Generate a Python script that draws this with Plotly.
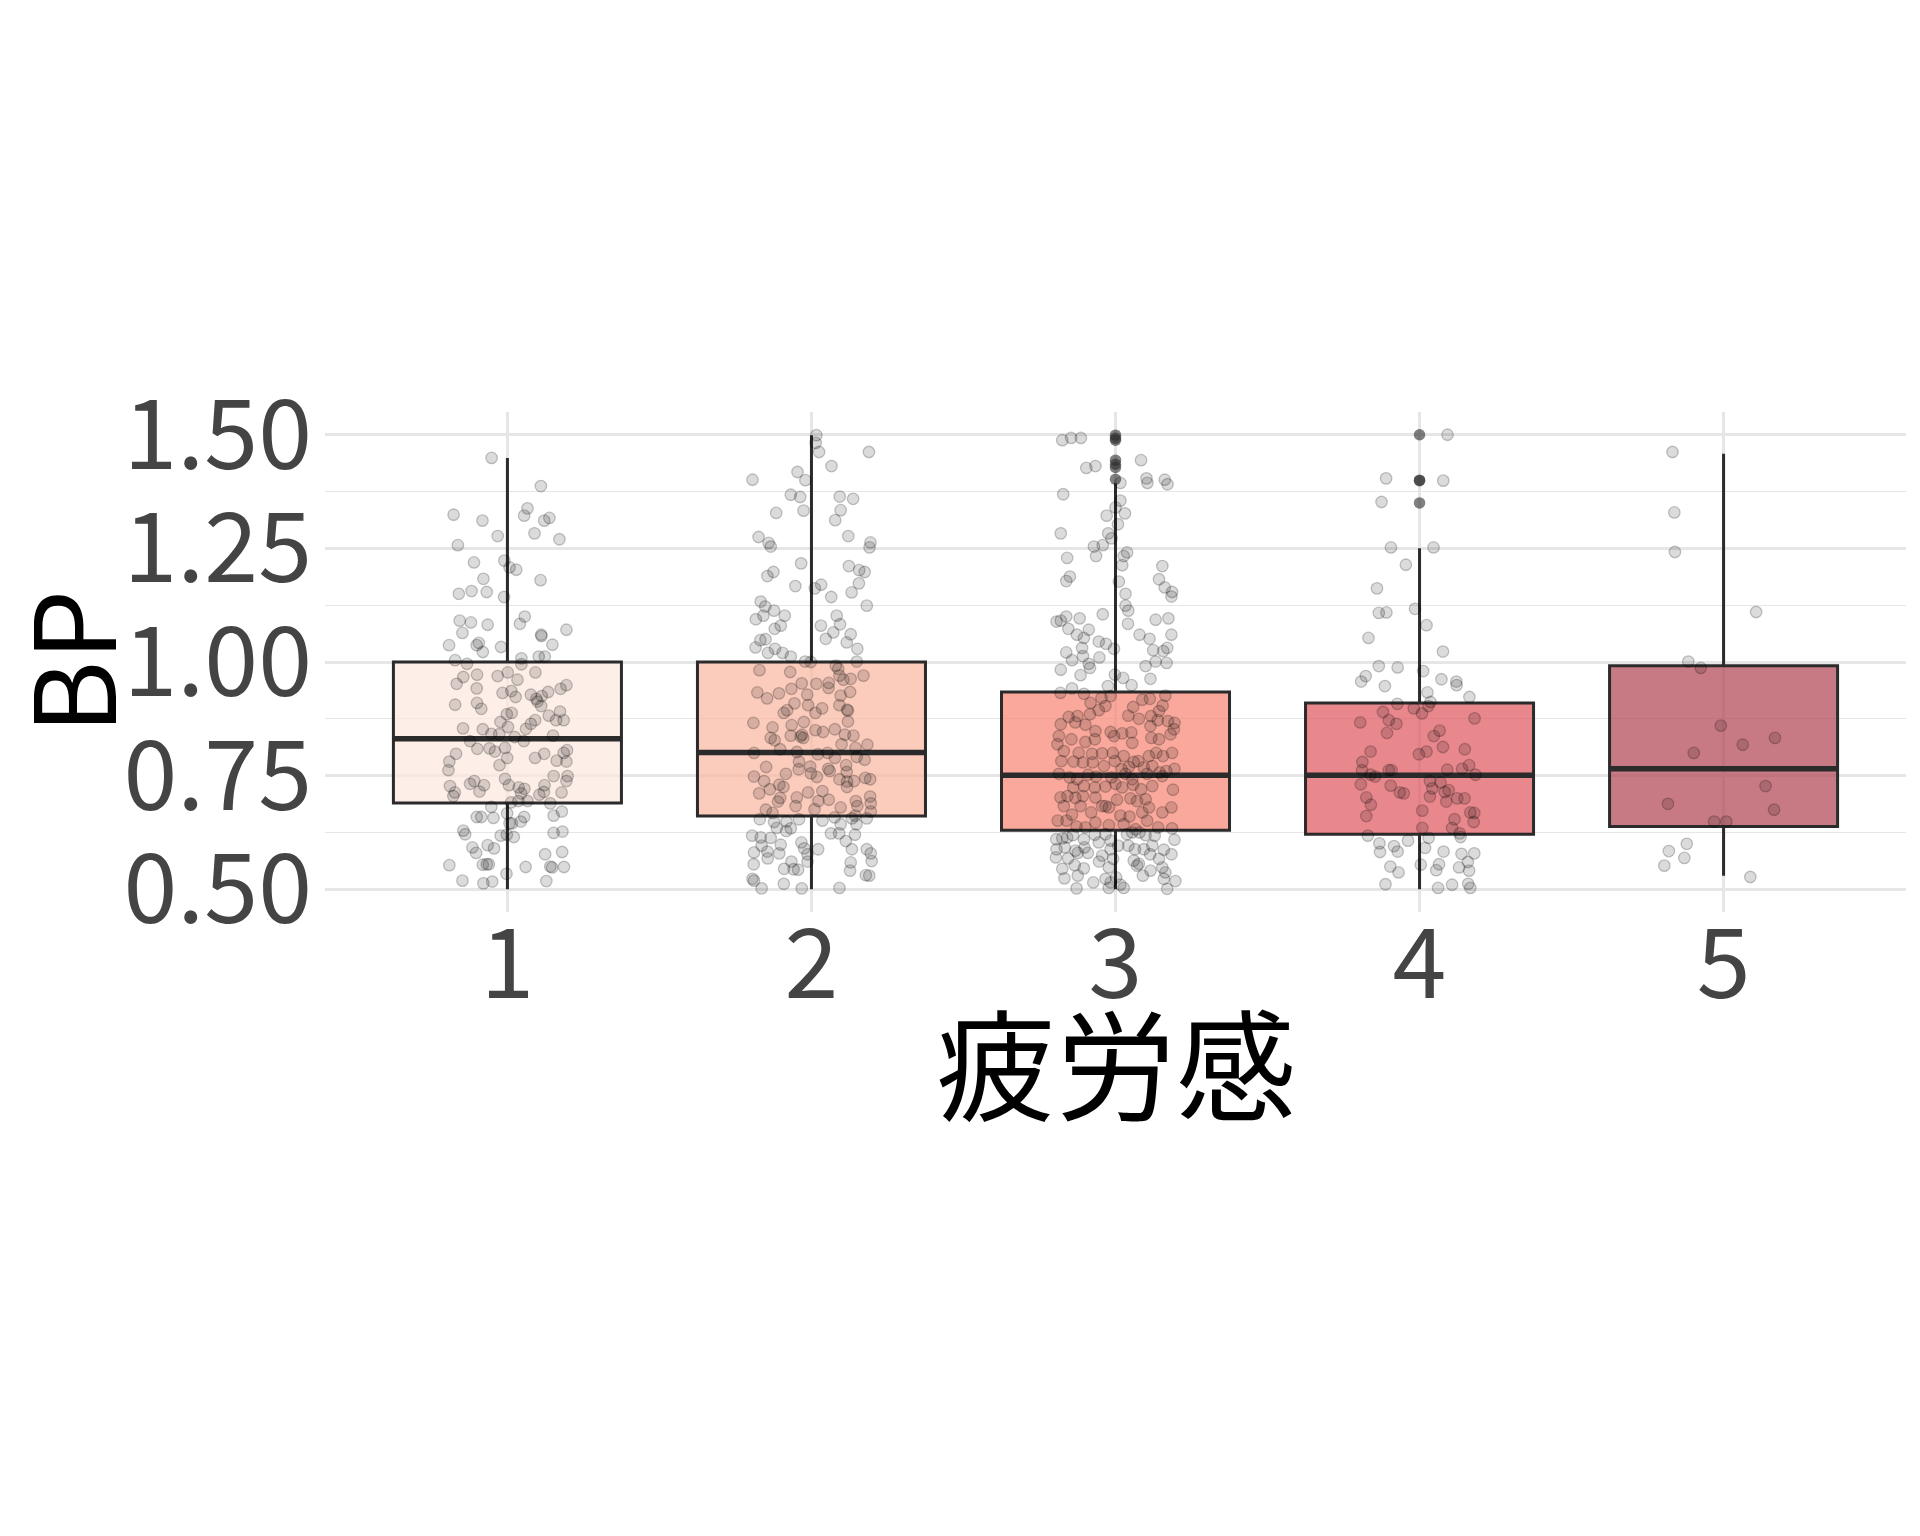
import plotly.graph_objects as go

# ---------------- data ----------------
categories = ["1", "2", "3", "4", "5"]
x_title = "疲労感"
y_title = "BP"
y_tickvals = [0.50, 0.75, 1.00, 1.25, 1.50]
y_ticktext = ["0.50", "0.75", "1.00", "1.25", "1.50"]

box_q1 = [0.690, 0.661, 0.630, 0.621, 0.638]
box_median = [0.831, 0.801, 0.751, 0.751, 0.765]
box_q3 = [1.000, 1.000, 0.934, 0.910, 0.992]
box_lower = [0.500, 0.500, 0.500, 0.500, 0.530]
box_upper = [1.449, 1.499, 1.393, 1.250, 1.458]

outlier_group = [3, 3, 3, 3, 3, 3, 3, 4, 4, 4, 4]
outlier_value = [1.499, 1.492, 1.488, 1.444, 1.435, 1.428, 1.402, 1.500, 1.400, 1.399, 1.350]

# jittered observations: value and horizontal jitter offset per group
g1_y = [1.449,1.387,1.324,1.338,1.322,1.311,1.311,1.317,1.277,1.283,1.270,1.257,1.219,1.223,1.208,1.203,1.183,1.180,1.150,1.156,1.154,1.143,1.091,1.087,1.082,1.100,1.084,1.064,1.060,1.057,1.071,1.037,1.037,1.042,1.022,1.033,1.038,1.004,0.996,1.008,0.995,1.012,1.012] + \
       [0.967,0.972,0.969,0.977,0.961,0.977,0.952,0.942,0.932,0.936,0.923,0.928,0.919,0.925,0.934,0.941,0.949,0.906,0.910,0.897,0.913,0.903,0.885,0.888,0.868,0.857,0.853,0.864,0.872,0.882,0.872,0.891,0.872,0.854,0.852,0.842,0.841,0.835,0.826,0.838,0.826,0.809,0.810,0.803,0.811,0.789,0.798,0.781,0.762,0.773,0.789,0.798,0.783,0.800,0.781,0.806,0.727,0.713,0.705,0.732,0.738,0.729,0.715,0.743,0.729,0.724,0.721,0.711,0.729,0.714,0.708,0.749,0.749,0.738,0.713] + \
       [0.691,0.694,0.694,0.689,0.681,0.659,0.659,0.657,0.667,0.645,0.645,0.649,0.659,0.662,0.671,0.629,0.621,0.618,0.620,0.615,0.624,0.627,0.592,0.580,0.597,0.590,0.577,0.582,0.553,0.554,0.555,0.555,0.549,0.550,0.548,0.549,0.534,0.519,0.513,0.517,0.518]
g1_dx = [-0.052,0.110,-0.177,0.066,0.055,-0.082,0.121,0.138,-0.032,0.089,0.171,-0.163,-0.110,-0.010,0.007,0.029,-0.079,0.109,-0.160,-0.118,-0.068,-0.011,-0.157,-0.120,-0.065,0.057,0.041,-0.148,0.111,0.112,0.194,-0.192,-0.101,-0.094,-0.081,-0.021,0.148,-0.172,-0.133,0.046,0.046,0.103,0.123] + \
        [-0.145,-0.100,-0.032,0.001,0.033,0.092,-0.167,-0.101,-0.016,0.013,0.027,0.077,0.095,0.113,0.134,0.175,0.194,-0.172,-0.100,-0.086,0.099,0.111,-0.002,0.014,-0.023,0.002,0.061,0.077,0.091,0.136,0.160,0.173,0.185,-0.146,-0.081,-0.053,-0.027,0.024,0.054,0.150,-0.123,-0.099,-0.059,-0.041,-0.008,-0.001,-0.169,-0.191,-0.194,-0.026,0.091,0.121,0.162,0.185,0.194,0.196,-0.189,-0.173,-0.178,-0.123,-0.109,-0.077,-0.092,-0.008,0.005,0.037,0.056,0.045,0.122,0.120,0.105,0.152,0.198,0.194,0.178] + \
        [0.012,0.036,0.066,0.141,-0.053,-0.101,-0.086,-0.046,-0.001,0.007,0.015,0.044,0.055,0.152,0.179,-0.145,-0.139,-0.022,-0.002,0.021,0.152,0.181,-0.115,-0.103,-0.065,-0.044,0.124,0.180,-0.191,-0.081,-0.068,-0.061,0.060,0.141,0.147,0.186,-0.003,-0.148,-0.079,-0.050,0.128]

g2_y = [1.499,1.482,1.462,1.462,1.431,1.418,1.400,1.401,1.368,1.363,1.364,1.359,1.328,1.333,1.334,1.312,1.275,1.277,1.262,1.254,1.263,1.252,1.217,1.211,1.198,1.189,1.202,1.198,1.167,1.162,1.170,1.173,1.153,1.143,1.124,1.133,1.122,1.113,1.094,1.102,1.102,1.080,1.073,1.080,1.102,1.083,1.061,1.065,1.051,1.043,1.050,1.048,1.032,1.020,1.029,1.020,1.012,1.029,1.001,1.000,0.992,1.001] + \
       [0.982,0.978,0.985,0.970,0.970,0.953,0.952,0.954,0.943,0.961,0.963,0.933,0.920,0.931,0.941,0.928,0.905,0.909,0.894,0.888,0.898,0.888,0.905,0.895,0.893,0.934,0.926,0.866,0.856,0.861,0.868,0.850,0.846,0.852,0.869,0.833,0.828,0.838,0.836,0.833,0.840,0.840,0.838,0.819,0.808,0.802,0.800,0.797,0.800,0.789,0.811,0.818,0.791,0.785,0.781,0.764,0.770,0.755,0.747,0.765,0.760,0.773,0.758,0.745,0.748,0.738,0.769,0.754,0.730,0.725,0.713,0.716,0.742,0.737,0.738,0.742,0.711,0.720,0.701,0.693,0.702,0.694,0.697,0.725,0.694,0.704,0.689,0.675,0.668,0.683,0.676,0.680,0.683,0.662,0.671] + \
       [0.654,0.648,0.649,0.654,0.651,0.658,0.643,0.656,0.643,0.656,0.635,0.628,0.634,0.623,0.623,0.620,0.618,0.614,0.613,0.606,0.596,0.598,0.603,0.590,0.588,0.588,0.588,0.581,0.583,0.579,0.577,0.579,0.562,0.568,0.555,0.561,0.561,0.559,0.545,0.544,0.543,0.541,0.531,0.530,0.523,0.519,0.502,0.512,0.502,0.503]
g2_dx = [0.016,0.014,0.025,0.189,0.066,-0.046,-0.020,-0.194,-0.068,-0.037,0.093,0.137,-0.116,-0.026,0.096,0.078,-0.174,0.121,-0.141,-0.134,0.194,0.191,-0.034,0.123,-0.125,-0.145,0.157,0.175,-0.053,0.011,0.032,0.156,0.132,0.065,0.182,-0.167,-0.152,-0.123,-0.183,-0.158,-0.088,-0.101,-0.121,0.031,0.083,0.094,0.129,0.072,0.047,0.116,-0.151,-0.168,-0.184,-0.143,-0.120,-0.095,-0.068,0.151,-0.021,-0.002,0.080,0.149] + \
        [-0.171,-0.070,0.088,0.171,0.092,-0.032,0.016,0.057,0.056,0.105,0.129,-0.178,-0.146,-0.107,-0.066,-0.014,-0.011,-0.056,-0.080,-0.091,0.035,0.013,0.092,0.117,0.120,0.127,0.096,-0.191,-0.128,-0.065,-0.025,0.013,0.038,0.077,0.120,-0.134,-0.121,-0.068,-0.036,-0.027,-0.031,0.110,0.138,0.099,-0.103,-0.048,-0.189,0.021,0.053,0.077,0.145,0.184,0.149,0.175,-0.041,-0.042,-0.004,-0.002,0.018,0.055,0.060,0.114,0.116,0.177,-0.189,-0.156,-0.149,-0.084,-0.106,-0.092,-0.011,0.036,0.092,0.117,0.140,0.193,-0.172,-0.137,-0.103,-0.110,-0.048,0.023,0.057,0.117,0.146,0.193,0.195,-0.150,-0.128,-0.052,0.010,0.096,0.151,0.144,0.195] + \
        [-0.170,-0.123,-0.082,-0.041,0.036,0.076,0.096,0.133,0.148,0.182,-0.114,-0.083,-0.068,0.064,0.091,0.143,-0.195,-0.167,-0.134,0.113,-0.164,-0.101,-0.033,-0.024,0.022,0.133,0.182,-0.189,-0.145,-0.106,-0.013,0.195,0.198,-0.144,-0.190,-0.066,-0.013,0.129,-0.090,-0.059,-0.044,0.127,0.179,0.190,-0.194,-0.189,-0.164,-0.091,-0.032,0.092]

g3_y = [1.488,1.493,1.493,1.427,1.431,1.444,1.404,1.394,1.401,1.391,1.394,1.369,1.355,1.340,1.327,1.322,1.303,1.283,1.283,1.272,1.254,1.257,1.233,1.233,1.241,1.229,1.213,1.211,1.188,1.178,1.177,1.182,1.164,1.154,1.144,1.150,1.124,1.113,1.089,1.091,1.100,1.096,1.105,1.093,1.096,1.073,1.071,1.084,1.060,1.053,1.060,1.051,1.060,1.045,1.040,1.029,1.031,1.021,1.013,1.004,0.996,1.010,1.026,1.024,1.031,0.991,1.001,0.998,0.983,0.971,0.987,0.972,0.965,0.963,0.949,0.942,0.947,0.932,0.930] + \
       [0.925,0.910,0.921,0.917,0.919,0.904,0.926,0.879,0.881,0.885,0.894,0.903,0.882,0.901,0.875,0.881,0.892,0.863,0.867,0.862,0.848,0.846,0.843,0.845,0.859,0.872,0.870,0.866,0.837,0.830,0.824,0.830,0.837,0.822,0.833,0.830,0.841,0.852,0.819,0.804,0.800,0.798,0.799,0.800,0.793,0.780,0.782,0.793,0.800,0.793,0.800,0.782,0.781,0.779,0.779,0.771,0.782,0.764,0.769,0.768,0.771,0.757,0.760,0.765,0.754,0.746,0.742,0.752,0.748,0.746,0.754,0.742,0.754,0.727,0.749,0.724,0.727,0.724,0.726,0.732,0.724,0.730,0.720,0.719,0.702,0.705,0.701,0.705,0.702,0.683,0.680,0.697,0.700,0.694,0.698,0.680,0.683,0.664,0.683,0.669,0.683,0.662,0.660,0.669,0.680,0.669,0.651,0.651,0.638,0.636,0.647,0.641,0.643,0.632,0.651,0.636,0.634] + \
       [0.610,0.612,0.614,0.619,0.610,0.620,0.621,0.607,0.621,0.625,0.625,0.619,0.618,0.609,0.588,0.592,0.585,0.592,0.603,0.588,0.596,0.596,0.588,0.588,0.596,0.587,0.570,0.568,0.580,0.580,0.574,0.567,0.563,0.556,0.577,0.567,0.577,0.545,0.553,0.546,0.561,0.548,0.552,0.541,0.548,0.537,0.524,0.530,0.515,0.523,0.515,0.526,0.510,0.530,0.523,0.518,0.502,0.503,0.503,0.501]
g3_dx = [-0.175,-0.146,-0.114,-0.096,-0.066,0.084,0.102,0.105,0.162,0.171,0.016,-0.172,0.016,0.000,0.031,-0.029,0.008,-0.180,-0.024,-0.013,-0.071,-0.042,-0.064,0.027,0.038,-0.159,0.022,0.154,-0.150,-0.162,0.011,0.143,0.162,0.186,0.184,0.033,0.033,0.042,-0.194,-0.180,-0.162,-0.118,-0.042,0.132,0.174,-0.155,-0.088,0.041,-0.127,-0.104,0.079,0.112,0.184,-0.055,-0.031,-0.005,-0.110,-0.162,-0.107,-0.143,-0.088,-0.053,0.124,0.157,0.170,0.099,0.132,0.168,-0.180,-0.115,-0.084,-0.002,0.025,0.115,0.053,-0.143,-0.025,-0.181,-0.104] + \
        [-0.016,-0.082,-0.046,0.088,0.113,0.155,0.164,-0.154,-0.125,-0.084,-0.055,-0.033,0.042,0.058,0.077,0.117,0.143,-0.180,-0.132,-0.099,-0.066,-0.016,0.022,0.052,0.115,0.139,0.172,0.194,-0.186,-0.145,-0.099,-0.068,-0.005,0.055,0.118,0.143,0.181,0.192,-0.191,-0.170,-0.121,-0.077,-0.044,-0.009,0.027,0.060,0.075,0.110,0.134,0.156,0.186,-0.178,-0.138,-0.107,-0.075,-0.038,-0.002,0.020,0.044,0.093,0.121,0.145,0.167,0.194,-0.186,-0.151,-0.126,-0.090,-0.064,-0.013,0.033,0.055,0.104,0.121,0.154,-0.139,-0.104,-0.068,-0.033,0.000,0.022,0.058,0.084,0.189,-0.181,-0.158,-0.132,-0.107,-0.066,-0.044,-0.022,0.005,0.049,0.071,0.099,0.184,-0.170,-0.143,-0.115,-0.080,-0.033,0.016,0.046,0.088,0.110,0.154,-0.190,-0.161,-0.128,-0.099,-0.066,-0.022,0.027,0.066,0.104,0.140,0.186] + \
        [-0.195,-0.175,-0.159,-0.140,-0.104,-0.068,-0.033,-0.016,0.038,0.055,0.079,0.099,0.129,0.194,-0.194,-0.167,-0.132,-0.102,-0.055,-0.016,0.009,0.042,0.064,0.093,0.121,0.159,-0.196,-0.156,-0.124,-0.091,-0.044,-0.008,0.060,0.077,0.114,0.143,0.184,-0.175,-0.134,-0.104,-0.054,-0.022,0.071,0.115,0.154,0.164,-0.168,-0.124,-0.073,-0.033,-0.016,0.002,0.016,0.090,0.159,0.197,-0.128,-0.022,0.027,0.170]

g4_y = [1.500,1.404,1.399,1.352,1.252,1.252,1.214,1.162,1.108,1.109,1.117,1.081,1.053,1.023,0.991,0.988,0.980,0.969,0.957,0.947,
        0.962,0.957,0.949,0.933,0.923,0.912,0.903,0.908,0.898,0.887,0.890,0.872,0.864,0.867,0.876,0.844,0.849,0.837,0.813,0.803,
        0.797,0.803,0.808,0.780,0.762,0.762,0.762,0.752,0.748,0.763,0.765,0.773,0.752,0.731,0.728,0.738,0.735,0.713,0.711,0.722,
        0.704,0.714,0.718,0.693,0.700,0.700,0.702,0.686,0.661,0.673,0.669,0.668,0.648,0.654,0.635,0.635,0.623,0.615,0.618,0.601,
        0.582,0.595,0.583,0.607,0.591,0.613,0.583,0.578,0.579,0.550,0.537,0.554,0.555,0.542,0.548,0.560,0.541,0.511,0.503,0.510,
        0.512,0.503]
g4_dx = [0.092,-0.110,0.078,-0.125,-0.094,0.046,-0.045,-0.140,-0.134,-0.109,-0.015,0.023,-0.168,0.077,-0.134,-0.072,0.012,-0.177,-0.192,-0.114,
         0.072,0.121,0.122,0.026,0.164,0.036,0.029,-0.073,-0.019,0.008,-0.120,-0.101,-0.076,-0.195,0.181,-0.107,0.066,0.047,0.077,-0.161,
         -0.002,0.023,0.149,-0.188,-0.189,-0.101,-0.092,-0.161,-0.146,0.091,0.140,0.163,0.184,-0.193,-0.095,0.034,0.069,-0.065,-0.052,0.042,
         0.034,0.083,0.096,0.088,0.124,0.148,-0.175,-0.160,-0.175,0.009,0.167,0.180,0.178,0.115,0.107,0.009,0.132,0.135,-0.170,-0.132,
         -0.130,-0.084,-0.072,-0.038,0.018,0.030,0.079,0.138,0.180,-0.096,-0.069,0.004,0.064,0.055,0.130,0.159,0.163,-0.112,0.061,0.107,
         0.160,0.167]

g5_y = [1.462,1.329,1.242,1.110,1.001,0.987,0.860,0.818,0.833,0.800,0.727,0.688,0.675,0.649,0.649,0.600,0.584,0.569,0.552,0.527]
g5_dx = [-0.168,-0.162,-0.160,0.107,-0.116,-0.075,-0.009,0.063,0.169,-0.098,0.138,-0.183,0.166,-0.031,0.009,-0.121,-0.180,-0.129,-0.195,0.088]

group_y = [g1_y, g2_y, g3_y, g4_y, g5_y]
group_dx = [g1_dx, g2_dx, g3_dx, g4_dx, g5_dx]

# ---------------- style ----------------
box_fill = ["rgba(252,231,221,0.7)", "rgba(249,181,159,0.7)", "rgba(246,131,112,0.7)",
            "rgba(222,84,91,0.7)", "rgba(175,66,79,0.7)"]
edge = "#2B2B2B"
box_w = 0.75
grid = "#E6E6E6"
latin_font = "Noto Sans CJK JP, Noto Sans, sans-serif"
cjk_font = "Noto Sans CJK JP, sans-serif"
tick_font = dict(family=latin_font, size=97, color="#444444")

fig = go.Figure()

for i in range(5):
    fig.add_trace(go.Box(
        x=[i + 1], q1=[box_q1[i]], median=[box_median[i]], q3=[box_q3[i]],
        lowerfence=[box_lower[i]], upperfence=[box_upper[i]],
        width=box_w, fillcolor=box_fill[i], line=dict(color=edge, width=3),
        whiskerwidth=0, boxpoints=False, showlegend=False, hoverinfo="skip"))

# thicker median bars (ggplot style)
mx, my = [], []
for i in range(5):
    mx += [i + 1 - box_w / 2, i + 1 + box_w / 2, None]
    my += [box_median[i], box_median[i], None]
fig.add_trace(go.Scatter(x=mx, y=my, mode="lines", line=dict(color=edge, width=5.5),
                         showlegend=False, hoverinfo="skip"))

# outliers
fig.add_trace(go.Scatter(x=outlier_group, y=outlier_value, mode="markers",
                         marker=dict(size=11.5, color="rgba(43,43,43,0.6)", line=dict(width=0)),
                         showlegend=False, hoverinfo="skip"))

# jitter points
px, py = [], []
for i in range(5):
    for v, d in zip(group_y[i], group_dx[i]):
        px.append(i + 1 + d)
        py.append(v)
fig.add_trace(go.Scatter(x=px, y=py, mode="markers",
                         marker=dict(size=11.5, color="rgba(0,0,0,0.14)",
                                     line=dict(width=1.3, color="rgba(0,0,0,0.22)")),
                         showlegend=False, hoverinfo="skip"))

fig.update_layout(
    width=1920, height=1536,
    margin=dict(l=317, r=22, t=404, b=632, autoexpand=False),
    paper_bgcolor="white", plot_bgcolor="white",
    showlegend=False,
    xaxis=dict(range=[0.4, 5.6], tickvals=[1, 2, 3, 4, 5], ticktext=categories,
               showgrid=True, gridcolor=grid, gridwidth=2.5, zeroline=False, showline=False,
               ticks="", tickfont=tick_font, ticklabelstandoff=-12, automargin=False),
    yaxis=dict(range=[0.45, 1.55], tickvals=y_tickvals, ticktext=y_ticktext,
               showgrid=True, gridcolor=grid, gridwidth=2.5, zeroline=False, showline=False,
               ticks="", tickfont=tick_font, ticklabelstandoff=12, automargin=False,
               minor=dict(tickvals=[0.625, 0.875, 1.125, 1.375], showgrid=True,
                          gridcolor=grid, gridwidth=1.3)),
    annotations=[
        dict(text=x_title, xref="paper", yref="paper", x=0.5, y=-0.295,
             xanchor="center", yanchor="middle", showarrow=False,
             font=dict(family=cjk_font, size=120, color="#000000")),
        dict(text=y_title, xref="paper", yref="paper", x=-0.163, y=0.5, textangle=-90,
             xanchor="center", yanchor="middle", showarrow=False,
             font=dict(family=latin_font, size=112, color="#000000")),
    ],
)

fig.write_html("out.html")
